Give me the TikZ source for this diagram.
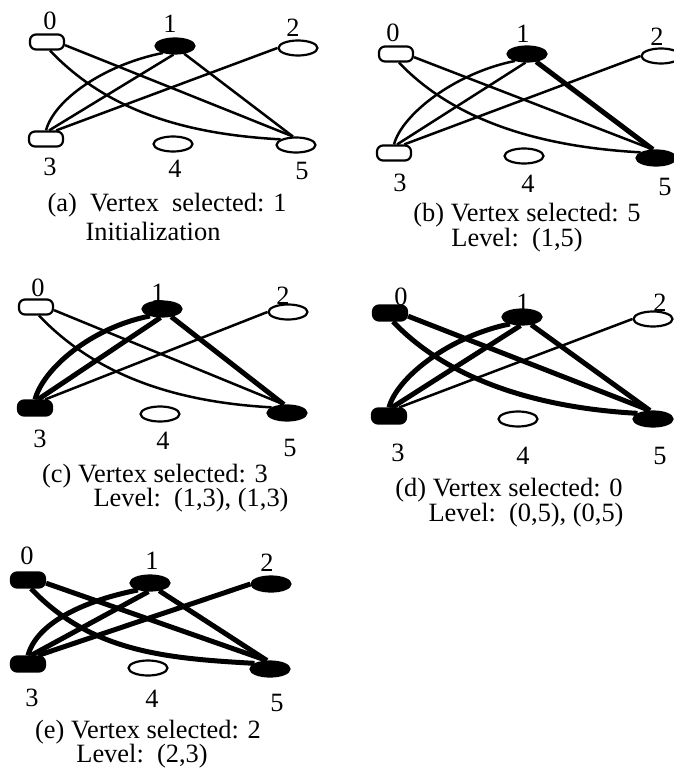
\documentclass[tikz,border=0pt]{standalone}
\usepackage{fontspec}
\setmainfont{Liberation Serif}
\usetikzlibrary{shapes.geometric}

\tikzset{
  vtxbox/.style={draw, line width=2.2pt, rectangle, rounded corners=6pt,
    minimum width=34pt, minimum height=15pt, inner sep=0pt},
  vtxoval/.style={draw, line width=2.2pt, ellipse,
    minimum width=39pt, minimum height=15pt, inner sep=0pt},
  picked/.style={fill=black},
  lbl/.style={font=\fontsize{26.4}{26.4}\selectfont, inner sep=0pt},
  captext/.style={font=\fontsize{26.4}{26.4}\selectfont, inner sep=0pt},
  lite/.style={line width=2.5pt},
  heavy/.style={line width=5pt},
}

% The six edges of the multigraph: 0-5 (twice), 1-3 (twice), 1-5, 2-3
\newcommand\panelEdges[7]{%
  \draw[#2] (#1-0.-10) -- (#1-5.110);
  \draw[#3] ([xshift=3pt]#1-0.south) .. controls +(60,63) and +(-90,-5) .. (#1-5.160);
  \draw[#4] (#1-1.-100) -- (#1-3.70);
  \draw[#5] (#1-1.-150) .. controls +(-60,12) and +(8,-30) .. (#1-3.north);
  \draw[#6] (#1-1.-40) -- (#1-5.110);
  \draw[#7] (#1-2.west) -- (#1-3.40);
}

\begin{document}
\begin{tikzpicture}[x=1pt, y=-1pt]
\useasboundingbox (0,0) rectangle (673,778);

% ---------- (a) ----------
\node[vtxbox]         (a-0) at (47,42) {};
\node[vtxoval,picked] (a-1) at (175,46) {};
\node[vtxoval]        (a-2) at (298,48) {};
\node[vtxbox]         (a-3) at (46,139) {};
\node[vtxoval]        (a-4) at (173,144) {};
\node[vtxoval]        (a-5) at (296,145) {};
\panelEdges{a}{lite}{lite}{lite}{lite}{lite}{lite}
\node[lbl] (a-l0) at (50,21) {0};
\node[lbl] (a-l1) at (170,24) {1};
\node[lbl] (a-l2) at (293,28) {2};
\node[lbl] (a-l3) at (50,167) {3};
\node[lbl] (a-l4) at (175,169) {4};
\node[lbl] (a-l5) at (302,171) {5};
\node[captext] (a-c1) at (167,205) {(a)\ \ Vertex\ \ selected: 1};
\node[captext] (a-c2) at (153,231) {Initialization};

% ---------- (b) ----------
\node[vtxbox]         (b-0) at (396,54) {};
\node[vtxoval,picked] (b-1) at (527,54) {};
\node[vtxoval]        (b-2) at (661,56) {};
\node[vtxbox]         (b-3) at (394,153) {};
\node[vtxoval]        (b-4) at (524,156) {};
\node[vtxoval,picked] (b-5) at (656,158) {};
\panelEdges{b}{lite}{lite}{lite}{lite}{heavy}{lite}
\node[lbl] (b-l0) at (393,33) {0};
\node[lbl] (b-l1) at (523,34) {1};
\node[lbl] (b-l2) at (657,37) {2};
\node[lbl] (b-l3) at (400,183) {3};
\node[lbl] (b-l4) at (528,184) {4};
\node[lbl] (b-l5) at (665,187) {5};
\node[captext] (b-c1) at (527,215) {(b) Vertex selected: 5};
\node[captext] (b-c2) at (517,240) {Level:\ \ (1,5)};

% ---------- (c) ----------
\node[vtxbox]         (c-0) at (36,307) {};
\node[vtxoval,picked] (c-1) at (162,309) {};
\node[vtxoval]        (c-2) at (288,312) {};
\node[vtxbox,picked]  (c-3) at (35,408) {};
\node[vtxoval]        (c-4) at (160,414) {};
\node[vtxoval,picked] (c-5) at (287,413) {};
\panelEdges{c}{lite}{lite}{heavy}{heavy}{heavy}{lite}
\node[lbl] (c-l0) at (38,288) {0};
\node[lbl] (c-l1) at (158,293) {1};
\node[lbl] (c-l2) at (283,296) {2};
\node[lbl] (c-l3) at (40,439) {3};
\node[lbl] (c-l4) at (163,441) {4};
\node[lbl] (c-l5) at (290,448) {5};
\node[captext] (c-c1) at (155,476) {(c) Vertex selected: 3};
\node[captext] (c-c2) at (191,500) {Level:\ \ (1,3), (1,3)};

% ---------- (d) ----------
\node[vtxbox,picked]  (d-0) at (390,313) {};
\node[vtxoval,picked] (d-1) at (522,317) {};
\node[vtxoval]        (d-2) at (653,319) {};
\node[vtxbox,picked]  (d-3) at (389,416) {};
\node[vtxoval]        (d-4) at (518,419) {};
\node[vtxoval,picked] (d-5) at (653,419) {};
\panelEdges{d}{heavy}{heavy}{heavy}{heavy}{heavy}{lite}
\node[lbl] (d-l0) at (401,297) {0};
\node[lbl] (d-l1) at (523,303) {1};
\node[lbl] (d-l2) at (660,303) {2};
\node[lbl] (d-l3) at (398,453) {3};
\node[lbl] (d-l4) at (523,456) {4};
\node[lbl] (d-l5) at (660,456) {5};
\node[captext] (d-c1) at (509,490) {(d) Vertex selected: 0};
\node[captext] (d-c2) at (526,515) {Level:\ \ (0,5), (0,5)};

% ---------- (e) ----------
\node[vtxbox,picked]  (e-0) at (28,580) {};
\node[vtxoval,picked] (e-1) at (150,583) {};
\node[vtxoval,picked] (e-2) at (271,584) {};
\node[vtxbox,picked]  (e-3) at (28,664) {};
\node[vtxoval]        (e-4) at (148,668) {};
\node[vtxoval,picked] (e-5) at (270,669) {};
\panelEdges{e}{heavy}{heavy}{heavy}{heavy}{heavy}{heavy}
\node[lbl] (e-l0) at (27,556) {0};
\node[lbl] (e-l1) at (152,561) {1};
\node[lbl] (e-l2) at (267,563) {2};
\node[lbl] (e-l3) at (32,698) {3};
\node[lbl] (e-l4) at (152,699) {4};
\node[lbl] (e-l5) at (277,703) {5};
\node[captext] (e-c1) at (148,732) {(e) Vertex selected: 2};
\node[captext] (e-c2) at (142,756) {Level:\ \ (2,3)};
\end{tikzpicture}
\end{document}
